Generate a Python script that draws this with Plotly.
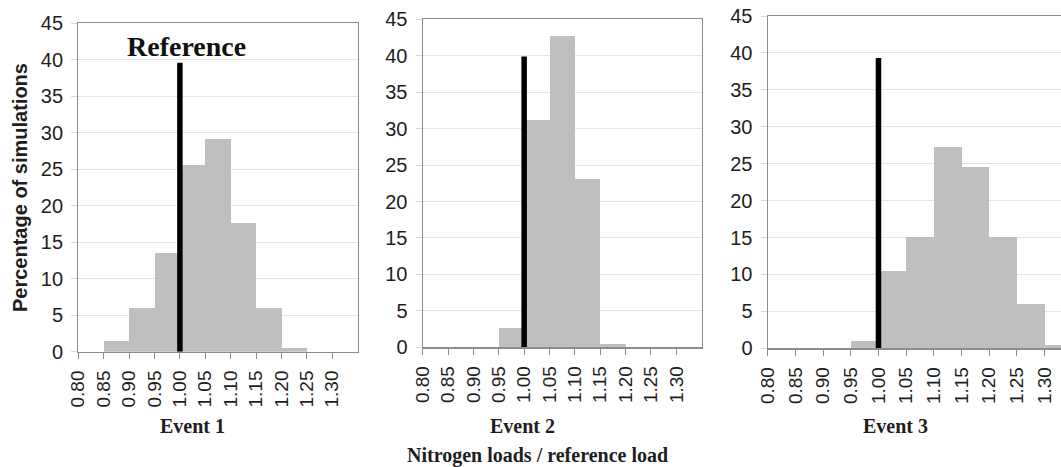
import plotly.graph_objects as go

# ---- data ----
bin_edges = [0.80, 0.85, 0.90, 0.95, 1.00, 1.05, 1.10, 1.15, 1.20, 1.25, 1.30]
tick_labels = ["0.80", "0.85", "0.90", "0.95", "1.00", "1.05", "1.10", "1.15", "1.20", "1.25", "1.30"]
bin_width = 0.05

event1 = [0, 1.5, 6.0, 13.5, 25.6, 29.2, 17.6, 6.0, 0.5, 0, 0]
event2 = [0, 0, 0, 2.6, 31.2, 42.7, 23.1, 0.5, 0, 0, 0]
event3 = [0, 0, 0, 1.0, 10.5, 15.1, 27.2, 24.6, 15.1, 6.0, 0.5]
events = [event1, event2, event3]
event_names = ["Event 1", "Event 2", "Event 3"]

ref_value = 1.0
ref_heights = [39.6, 39.9, 39.3]

# ---- layout geometry (pixels of a 1061x467 canvas) ----
W, H = 1061, 467
panels = [
    dict(x0=78.3, x1=357.7, y0=23.3, y1=351.7, xmax=1.35),
    dict(x0=422.7, x1=701.7, y0=19.3, y1=347.3, xmax=1.35),
    dict(x0=767.7, x1=1061.0, y0=16.0, y1=348.3, xmax=1.3295),
]
event_label_x = [192, 522, 895.5]

fig = go.Figure()
grid = "#e4e4e4"
axis_col = "#8c8c8c"
tick_font = dict(family="Liberation Sans, Arial", size=19, color="#1e1e1e")

for i, (vals, p) in enumerate(zip(events, panels)):
    n = "" if i == 0 else str(i + 1)
    xa, ya = "x" + n, "y" + n
    fig.add_trace(go.Bar(
        x=bin_edges, y=vals, width=bin_width, offset=0,
        marker=dict(color="#bfbfbf", line=dict(width=0)),
        xaxis=xa, yaxis=ya, showlegend=False, hoverinfo="skip",
    ))
    fig.add_trace(go.Scatter(
        x=[ref_value, ref_value], y=[0, ref_heights[i]], mode="lines",
        line=dict(color="black", width=5.5),
        xaxis=xa, yaxis=ya, showlegend=False, hoverinfo="skip",
    ))
    fig.layout["xaxis" + n] = dict(
        domain=[p["x0"] / W, p["x1"] / W], anchor=ya,
        range=[bin_edges[0], p["xmax"]],
        tickvals=bin_edges, ticktext=tick_labels, tickangle=-90,
        ticks="outside", ticklen=6, tickcolor=axis_col, tickwidth=1,
        ticklabelstandoff=4,
        showline=True, linecolor=axis_col, linewidth=1.2,
        mirror=True, showgrid=False, zeroline=False,
        tickfont=tick_font, automargin=False, fixedrange=True,
    )
    fig.layout["yaxis" + n] = dict(
        domain=[1 - p["y1"] / H, 1 - p["y0"] / H], anchor=xa,
        range=[0, 45], dtick=5, tick0=0,
        ticks="outside", ticklen=6, tickcolor="#d8d8d8", tickwidth=1,
        ticklabelstandoff=4,
        showline=True, linecolor=axis_col, linewidth=1.2,
        mirror=(i < 2), showgrid=True, gridcolor=grid, gridwidth=1,
        zeroline=False, tickfont=dict(family="Liberation Sans, Arial", size=20, color="#1e1e1e"),
        automargin=False, fixedrange=True,
    )
    fig.add_annotation(
        text="<b>%s</b>" % event_names[i], xref="paper", yref="paper",
        x=event_label_x[i] / W, y=1 - 426 / H, showarrow=False,
        font=dict(family="Liberation Serif, Times New Roman", size=20, color="#1e1e1e"),
        xanchor="center", yanchor="middle",
    )

fig.add_annotation(
    text="<b>Reference</b>", xref="paper", yref="paper",
    x=186.7 / W, y=1 - 46.7 / H, showarrow=False,
    font=dict(family="Liberation Serif, Times New Roman", size=28, color="#111111"),
    xanchor="center", yanchor="middle",
)
fig.add_annotation(
    text="<b>Percentage of simulations</b>", xref="paper", yref="paper",
    x=20 / W, y=1 - 188 / H, showarrow=False, textangle=-90,
    font=dict(family="Liberation Sans, Arial", size=20, color="#1e1e1e"),
    xanchor="center", yanchor="middle",
)
fig.add_annotation(
    text="<b>Nitrogen loads / reference load</b>", xref="paper", yref="paper",
    x=537 / W, y=1 - 455 / H, showarrow=False,
    font=dict(family="Liberation Serif, Times New Roman", size=20, color="#1e1e1e"),
    xanchor="center", yanchor="middle",
)

fig.update_layout(
    template="none", width=W, height=H,
    margin=dict(l=0, r=0, t=0, b=0, pad=0),
    paper_bgcolor="white", plot_bgcolor="white",
    bargap=0, showlegend=False,
)

fig.write_html(
    "out.html",
    config={"displayModeBar": False, "staticPlot": True},
    post_script="document.body.style.margin='0';document.body.style.padding='0';document.body.style.overflow='hidden';",
)
